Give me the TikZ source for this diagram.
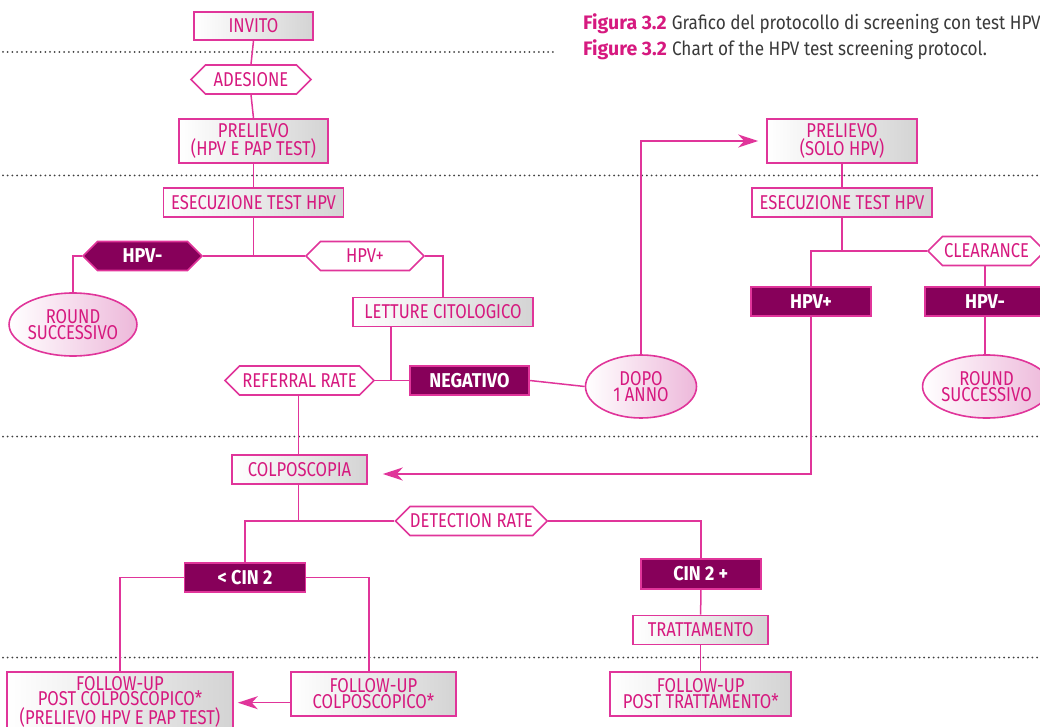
\documentclass[tikz,border=0pt]{standalone}
\usepackage{fontspec}
\setmainfont{Fira Sans}
\newfontfamily\nf[FakeStretch=0.83]{Fira Sans}
\newfontfamily\nfb[FakeStretch=0.9]{Fira Sans}
\newfontfamily\capf[FakeStretch=0.88]{Fira Sans}
\usetikzlibrary{shapes.geometric,shapes.symbols,arrows.meta}
\definecolor{mag}{HTML}{D6197F}
\definecolor{magline}{HTML}{E0359A}
\definecolor{darkm}{HTML}{87005A}
\definecolor{pinkf}{HTML}{EDB8DA}
\definecolor{capgray}{HTML}{3A3A3A}
\tikzset{
 base/.style={draw=magline, line width=1.6pt, inner sep=0pt, text=mag, font=\nf\fontsize{20}{15.8}\selectfont, align=center},
 gbox/.style={base, rectangle, left color=white, right color=black!17},
 dbox/.style={base, rectangle, fill=darkm, text=white, font=\nfb\bfseries\fontsize{20}{15.8}\selectfont},
 hexw/.style={base, signal, signal to=east and west, signal pointer angle=90, fill=white},
 hexd/.style={hexw, fill=darkm, text=white, font=\nfb\bfseries\fontsize{20}{15.8}\selectfont},
 oval/.style={base, ellipse, left color=white, right color=pinkf},
 conn/.style={draw=magline, line width=1.5pt},
 arr/.style={conn, -{Stealth[length=20pt,width=13pt,inset=6pt]}},
 dots/.style={line width=2pt, line cap=round, dash pattern=on 0pt off 4.7pt, draw=black!75},
}
\begin{document}
\begin{tikzpicture}[x=1pt,y=-1pt]
\clip (0,0) rectangle (1040,727);
% dotted separators
\draw[dots] (3,52) -- (555,52);
\draw[dots] (3,175.5) -- (1040,175.5);
\draw[dots] (3,436.5) -- (1040,436.5);
\draw[dots] (3,657.5) -- (1040,657.5);
% caption
\node[anchor=base west, inner sep=0pt, font=\fontsize{19.5}{24}\selectfont] (cap1) at (583,30)
 {\textcolor{mag}{\bfseries Figura 3.2} \textcolor{capgray}{\capf Grafico del protocollo di screening con test HPV}};
\node[anchor=base west, inner sep=0pt, font=\fontsize{19.5}{24}\selectfont] (cap2) at (583,56)
 {\textcolor{mag}{\bfseries Figure 3.2} \textcolor{capgray}{\capf Chart of the HPV test screening protocol.}};
% junction coordinates
\coordinate (j1) at (253.5,256);
\coordinate (j2) at (391,380.5);
\coordinate (j3) at (842,251);
\coordinate (j4) at (298.5,521);
\coordinate (j5) at (369,577.3);
\coordinate (ar1) at (811,474);
\coordinate (ar2) at (373.4,702.7);
% nodes left column
\node[gbox, minimum width=119, minimum height=28] (invito) at (253.5,26) {INVITO};
\node[hexw, minimum width=120, minimum height=29] (ades) at (251,79.5) {ADESIONE};
\node[gbox, minimum width=149, minimum height=44] (prel1) at (253.5,141) {PRELIEVO\\(HPV E PAP TEST)};
\node[gbox, minimum width=180, minimum height=29] (esec1) at (253.5,202.5) {ESECUZIONE TEST HPV};
\node[hexd, minimum width=119, minimum height=29] (hpvm1) at (142.5,256) {HPV-};
\node[hexw, minimum width=118, minimum height=29] (hpvp1) at (365,256) {HPV+};
\node[oval, minimum width=110, minimum height=63] (round1) at (73,324.5) {ROUND\\SUCCESSIVO};
\node[gbox, minimum width=180, minimum height=29] (lett) at (443,312) {LETTURE CITOLOGICO};
\node[hexw, minimum width=149, minimum height=29] (ref) at (299.5,380.5) {REFERRAL RATE};
\node[dbox, minimum width=119, minimum height=29] (neg) at (469.5,380.5) {NEGATIVO};
\node[oval, minimum width=111, minimum height=63] (dopo) at (641,386.5) {DOPO\\1 ANNO};
% right column
\node[gbox, minimum width=150, minimum height=44] (prel2) at (842,141) {PRELIEVO\\(SOLO HPV)};
\node[gbox, minimum width=180, minimum height=29] (esec2) at (842,202.5) {ESECUZIONE TEST HPV};
\node[hexw, minimum width=117, minimum height=29] (clear) at (986.5,251) {CLEARANCE};
\node[dbox, minimum width=120, minimum height=29] (hpvp2) at (811,301.5) {HPV+};
\node[dbox, minimum width=120, minimum height=29] (hpvm2) at (985,301.5) {HPV-};
\node[oval, minimum width=111, minimum height=63] (round2) at (986.5,386.5) {ROUND\\SUCCESSIVO};
% lower part
\node[gbox, minimum width=135, minimum height=29] (colpo) at (299.5,469.5) {COLPOSCOPIA};
\node[hexw, minimum width=149, minimum height=29] (det) at (471.4,521) {DETECTION RATE};
\node[dbox, minimum width=121, minimum height=29] (cinm) at (245,577.3) {< CIN 2};
\node[dbox, minimum width=120, minimum height=29.5] (cinp) at (700.8,574) {CIN 2 +};
\node[gbox, minimum width=135, minimum height=29] (tratt) at (700.7,630) {TRATTAMENTO};
\node[gbox, minimum width=181, minimum height=44] (fupt) at (700.7,694) {FOLLOW-UP\\POST TRATTAMENTO*};
\node[gbox, minimum width=165, minimum height=44] (fuc) at (373.4,694) {FOLLOW-UP\\COLPOSCOPICO*};
\node[gbox, minimum width=226, minimum height=59.5] (fupc) at (120,701.5) {FOLLOW-UP\\POST COLPOSCOPICO*\\(PRELIEVO HPV E PAP TEST)};
% connectors
\draw[conn] (invito.south) -- (ades.north);
\draw[conn] (ades.south) -- (prel1.north);
\draw[conn] (prel1.south) -- (esec1.north);
\draw[conn] (esec1.south) -- (j1);
\draw[conn] (hpvm1.east) -- (hpvp1.west);
\draw[conn] (hpvm1.west) -| (round1.north);
\draw[conn] (hpvp1.east) -| (lett.north);
\draw[conn] (lett.south -| j2) -- (j2);
\draw[conn] (ref.east) -- (neg.west);
\draw[conn] (neg.east) -- (dopo.west);
\draw[arr, shorten >=8pt] (dopo.north) |- (prel2.west);
\draw[conn] (prel2.south) -- (esec2.north);
\draw[conn] (esec2.south) -- (j3);
\draw[conn] (clear.west) -| (hpvp2.north);
\draw[conn] (clear.south -| hpvm2.north) -- (hpvm2.north);
\draw[conn] (hpvm2.south) -- (hpvm2.south |- round2.north);
\draw[arr, shorten >=15pt] (hpvp2.south) -- (ar1) -- (ar1 -| colpo.east);
\draw[conn] (ref.south -| j4) -- (colpo.north -| j4);
\draw[conn] (colpo.south -| j4) -- (j4);
\draw[conn] (det.west) -| (cinm.north);
\draw[conn] (det.east) -| (cinp.north);
\draw[conn] (cinp.south) -- (tratt.north);
\draw[conn] (tratt.south) -- (fupt.north);
\draw[conn] (cinm.west) -| (fupc.north);
\draw[conn] (cinm.east) -- (j5) -- (j5 |- fuc.north);
\draw[arr, shorten >=4pt] (ar2 -| fuc.west) -- (ar2 -| fupc.east);
\end{tikzpicture}
\end{document}
